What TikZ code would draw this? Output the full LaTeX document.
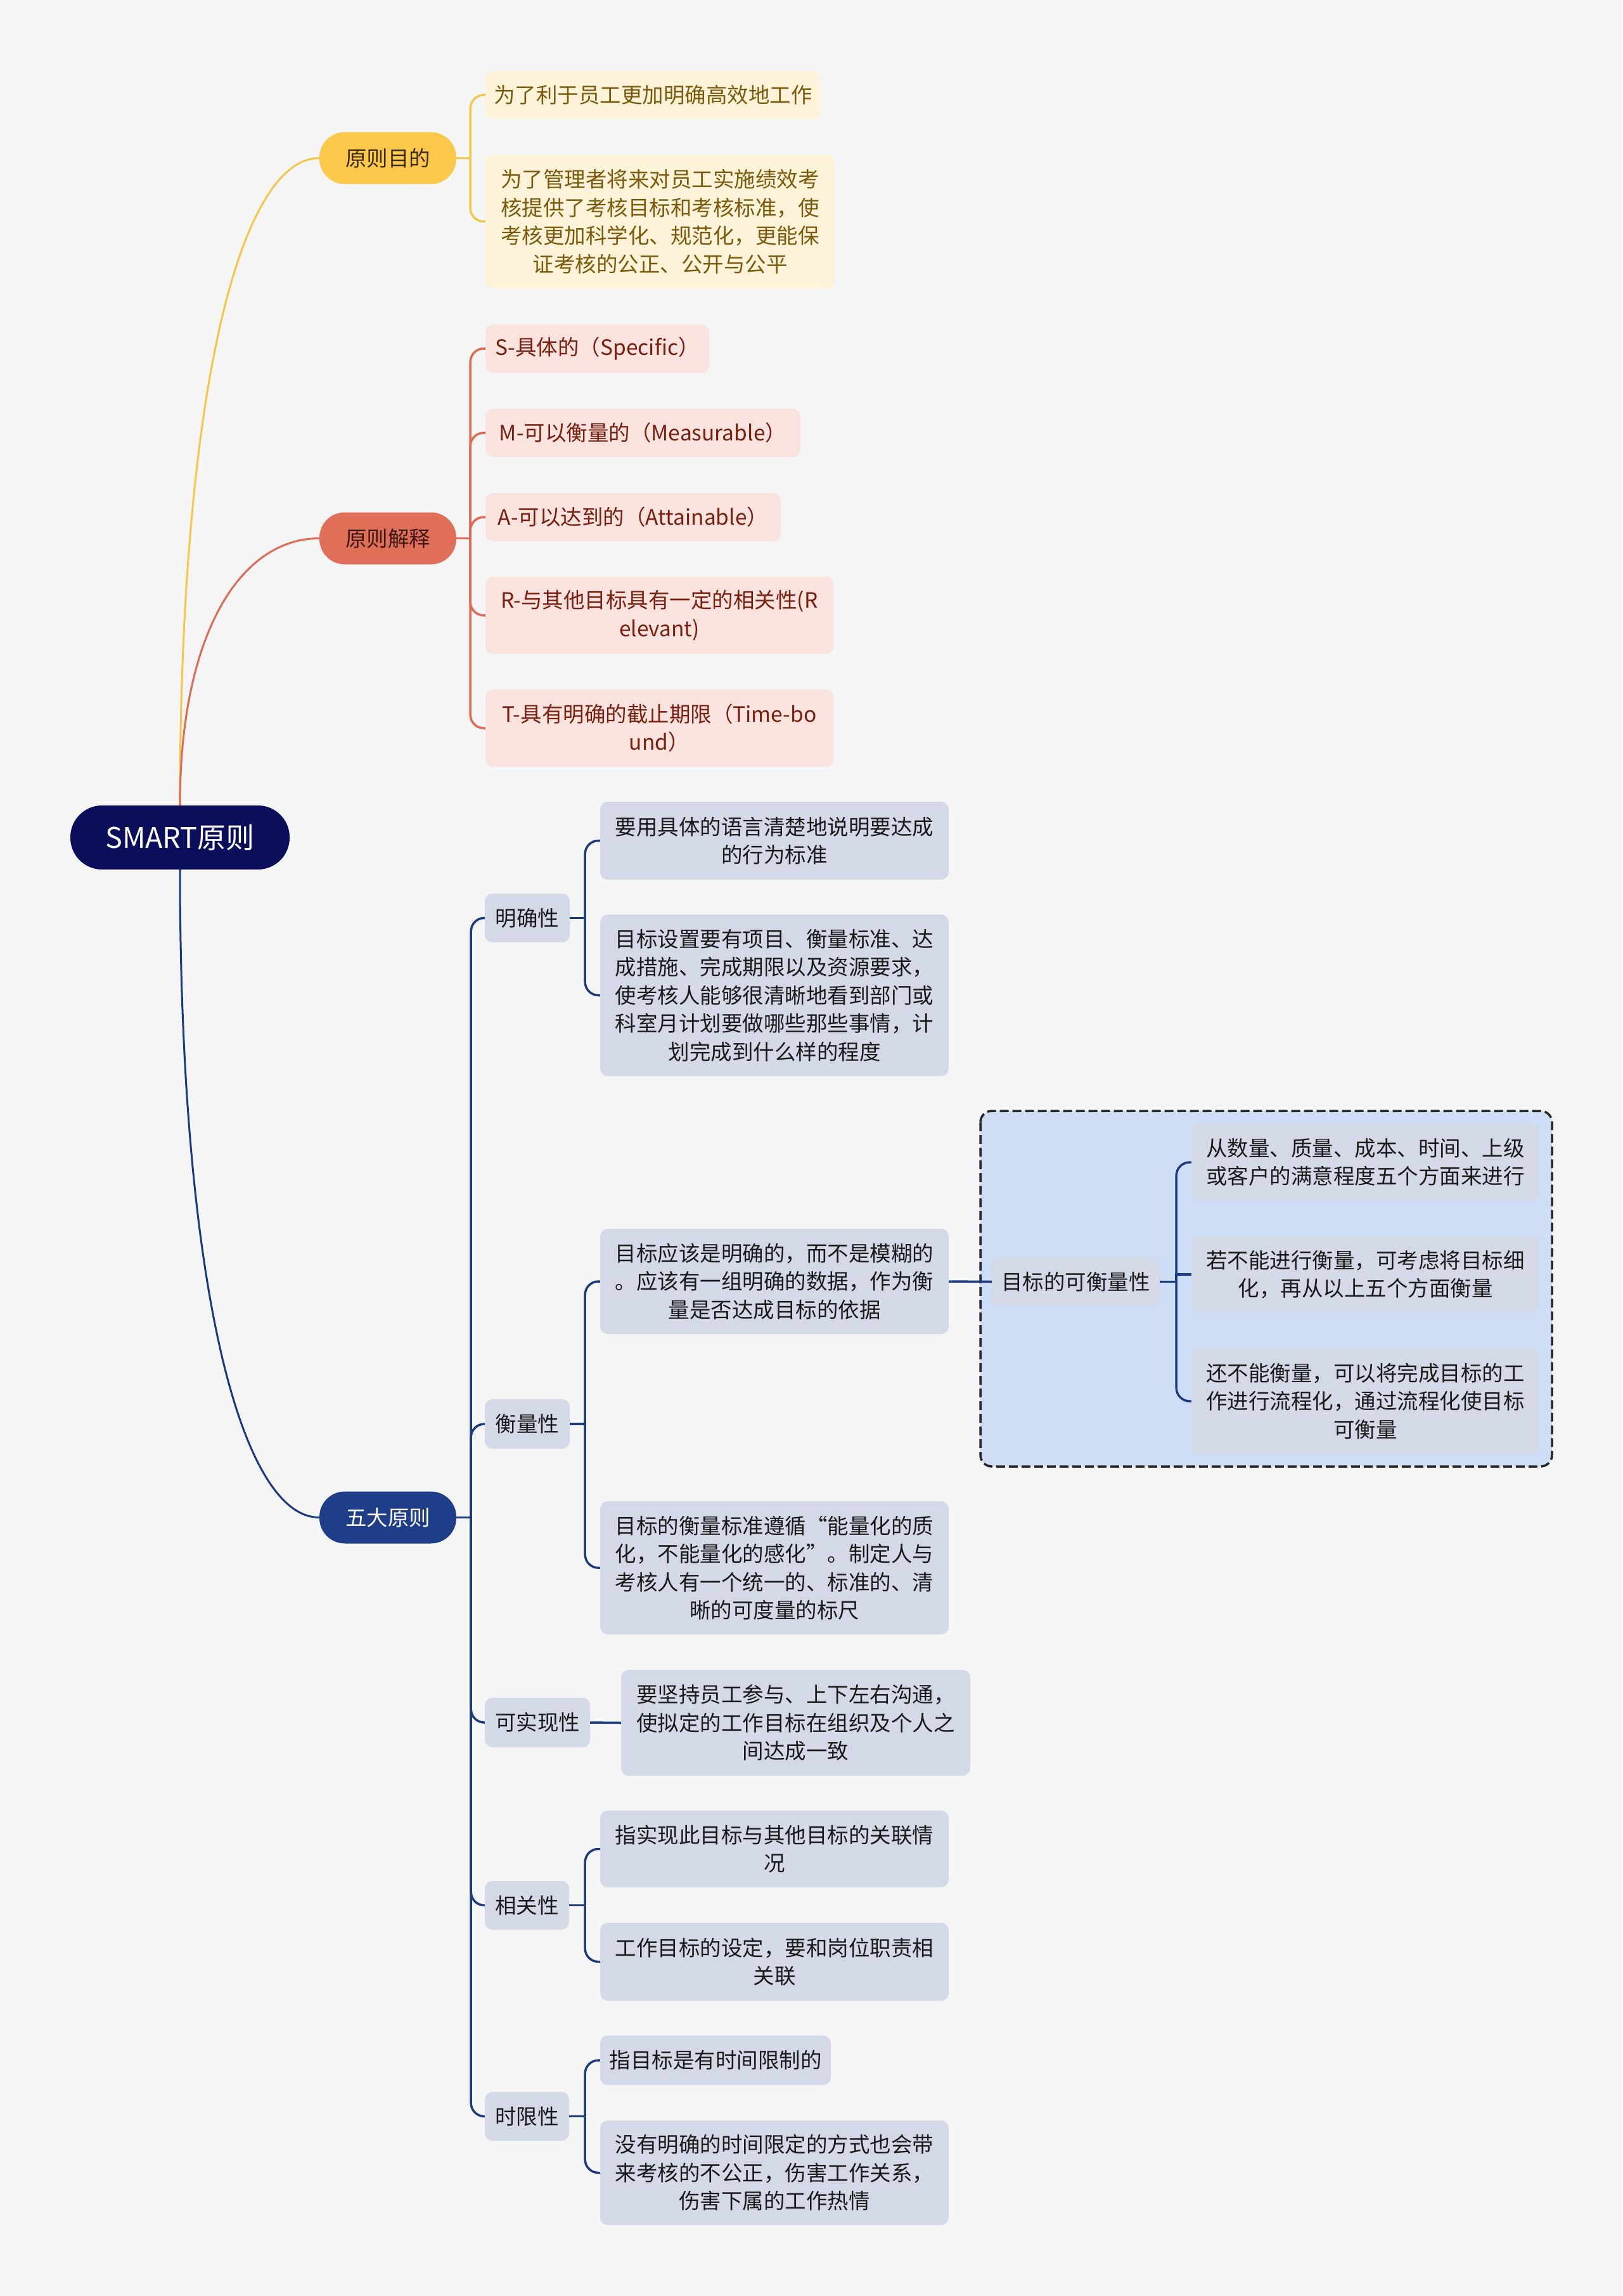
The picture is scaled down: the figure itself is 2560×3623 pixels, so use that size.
\documentclass[tikz,border=0pt]{standalone}
\usepackage{fontspec}
\setmainfont{Noto Sans CJK SC}
\definecolor{bgc}{HTML}{F5F5F5}
\definecolor{rootc}{HTML}{0B0F5B}
\definecolor{ymain}{HTML}{FCC94B}
\definecolor{ymaintxt}{HTML}{3B2A0A}
\definecolor{rmain}{HTML}{E16E58}
\definecolor{rmaintxt}{HTML}{3A1810}
\definecolor{bmain}{HTML}{1E3E8A}
\definecolor{ylt}{HTML}{FEF3D8}
\definecolor{ytxt}{HTML}{7B5A0C}
\definecolor{rlt}{HTML}{FAE3DE}
\definecolor{rtxt}{HTML}{7A1E0E}
\definecolor{blt}{HTML}{D4D9E8}
\definecolor{btxt}{HTML}{1A1A1A}
\definecolor{regionc}{HTML}{CDDDF5}
\definecolor{ylc}{HTML}{F5C64A}
\definecolor{rlc}{HTML}{E06A52}
\definecolor{blc}{HTML}{1C3A80}
\begin{document}
\begin{tikzpicture}[x=1pt,y=-1pt,
  every node/.style={font=\fontsize{33.5}{44.5}\selectfont, inner sep=0pt, align=center},
  sz/.style 2 args={minimum width=#1pt, minimum height=#2pt},
  rootbox/.style={fill=rootc, text=white, rounded corners=50pt, font=\fontsize{45}{54}\selectfont},
  mainbox/.style={rounded corners=40pt, minimum width=216pt, minimum height=82pt},
  ybox/.style={fill=ylt, text=ytxt, rounded corners=12pt},
  rbox/.style={fill=rlt, text=rtxt, rounded corners=12pt},
  bbox/.style={fill=blt, text=btxt, rounded corners=12pt},
  yl/.style={draw=ylc, line width=3.5pt},
  rl/.style={draw=rlc, line width=3.5pt},
  bl/.style={draw=blc, line width=3.5pt},
  rc/.style={rounded corners=21pt},
  region/.style={fill=regionc, draw=black!85, line width=3.5pt, dash pattern=on 14pt off 6pt, rounded corners=18pt}
]
\useasboundingbox (0,0) rectangle (2560,3623);
\fill[bgc] (0,0) rectangle (2560,3623);

% dashed region around the measurable sub-branch
\path[region] (1547,1753) rectangle (2449,2314);

% ---------- nodes ----------
\node[rootbox, sz={346}{101}] (root) at (284,1321.5) {SMART原则};
\node[mainbox, fill=ymain, text=ymaintxt] (p1) at (612,249.5) {原则目的};
\node[mainbox, fill=rmain, text=rmaintxt] (p2) at (612,849.5) {原则解释};
\node[mainbox, fill=bmain, text=white] (p3) at (612,2394.5) {五大原则};

\node[ybox, sz={529}{76}] (y1) at (1030.5,150) {为了利于员工更加明确高效地工作};
\node[ybox, sz={551}{211}] (y2) at (1041.5,349.5) {为了管理者将来对员工实施绩效考\\核提供了考核目标和考核标准，使\\考核更加科学化、规范化，更能保\\证考核的公正、公开与公平};

\node[rbox, sz={353}{76}] (r1) at (942.5,550) {S-具体的（Specific）};
\node[rbox, sz={497}{76}] (r2) at (1014.5,683) {M-可以衡量的（Measurable）};
\node[rbox, sz={466}{76}] (r3) at (999,816) {A-可以达到的（Attainable）};
\node[rbox, sz={549}{122}] (r4) at (1040.5,971) {R-与其他目标具有一定的相关性(R\\elevant)};
\node[rbox, sz={549}{122}] (r5) at (1040.5,1149) {T-具有明确的截止期限（Time-bo\\und）};

\node[bbox, sz={134}{77}] (b1) at (832,1448.5) {明确性};
\node[bbox, sz={550}{123}] (b1c1) at (1222,1326.5) {要用具体的语言清楚地说明要达成\\的行为标准};
\node[bbox, sz={550}{255}] (b1c2) at (1222,1570.5) {目标设置要有项目、衡量标准、达\\成措施、完成期限以及资源要求，\\使考核人能够很清晰地看到部门或\\科室月计划要做哪些那些事情，计\\划完成到什么样的程度};

\node[bbox, sz={134}{78}] (b2) at (832,2247) {衡量性};
\node[bbox, sz={550}{166}] (b2c1) at (1222,2022) {目标应该是明确的，而不是模糊的\\。应该有一组明确的数据，作为衡\\量是否达成目标的依据};
\node[bbox, sz={265}{77}] (b2g) at (1697.5,2022.5) {目标的可衡量性};
\node[bbox, sz={549}{122}] (g1) at (2154.5,1834) {从数量、质量、成本、时间、上级\\或客户的满意程度五个方面来进行};
\node[bbox, sz={549}{122}] (g2) at (2154.5,2011) {若不能进行衡量，可考虑将目标细\\化，再从以上五个方面衡量};
\node[bbox, sz={549}{166}] (g3) at (2154.5,2211) {还不能衡量，可以将完成目标的工\\作进行流程化，通过流程化使目标\\可衡量};
\node[bbox, sz={550}{210}] (b2c2) at (1222,2474) {目标的衡量标准遵循“能量化的质\\化，不能量化的感化”。制定人与\\考核人有一个统一的、标准的、清\\晰的可度量的标尺};

\node[bbox, sz={166}{78}] (b3) at (848,2718) {可实现性};
\node[bbox, sz={551}{167}] (b3c1) at (1255.5,2718.5) {要坚持员工参与、上下左右沟通，\\使拟定的工作目标在组织及个人之\\间达成一致};

\node[bbox, sz={133}{77}] (b4) at (831.5,3006.5) {相关性};
\node[bbox, sz={550}{121}] (b4c1) at (1222,2917.5) {指实现此目标与其他目标的关联情\\况};
\node[bbox, sz={550}{123}] (b4c2) at (1222,3095.5) {工作目标的设定，要和岗位职责相\\关联};

\node[bbox, sz={133}{77}] (b5) at (831.5,3339.5) {时限性};
\node[bbox, sz={364}{78}] (b5c1) at (1129,3251) {指目标是有时间限制的};
\node[bbox, sz={550}{165}] (b5c2) at (1222,3428.5) {没有明确的时间限定的方式也会带\\来考核的不公正，伤害工作关系，\\伤害下属的工作热情};

% ---------- connectors ----------
\draw[yl, line width=3pt] (root.north) .. controls (284,617) and (379,249.5) .. (p1.west);
\draw[rl, line width=3pt] (root.north) .. controls (284,1001) and (379,849.5) .. (p2.west);
\draw[bl, line width=3pt] (root.south) .. controls (284,2026) and (380,2394.5) .. (p3.west);

% 原则目的
\draw[yl] (p1.east) -- ++(22,0) coordinate (j1);
\draw[yl, rc] (j1) |- (y1.west);
\draw[yl, rc] (j1) |- (y2.west);

% 原则解释
\draw[rl] (p2.east) -- ++(22,0) coordinate (j2);
\foreach \c in {r1,r2,r3,r4,r5} \draw[rl, rc] (j2) |- (\c.west);

% 五大原则
\draw[bl] (p3.east) -- ++(23,0) coordinate (j3);
\foreach \c in {b1,b2,b3,b4,b5} \draw[bl, rc] (j3) |- (\c.west);

% 明确性
\draw[bl] (b1.east) -- ++(24,0) coordinate (j4);
\draw[bl, rc] (j4) |- (b1c1.west);
\draw[bl, rc] (j4) |- (b1c2.west);

% 衡量性
\draw[bl] (b2.east) -- ++(24,0) coordinate (j5);
\draw[bl, rc] (j5) |- (b2c1.west);
\draw[bl, rc] (j5) |- (b2c2.west);
\draw[bl] (b2c1.east) -- (b2g.west);

% 目标的可衡量性
\draw[bl] (b2g.east) -- ++(26,0) coordinate (j6);
\draw[bl, rc] (j6) |- (g1.west);
\draw[bl] (j6) |- (g2.west);
\draw[bl, rc] (j6) |- (g3.west);

% 可实现性
\draw[bl] (b3.east) -- (b3c1.west);

% 相关性
\draw[bl] (b4.east) -- ++(25,0) coordinate (j7);
\draw[bl, rc] (j7) |- (b4c1.west);
\draw[bl, rc] (j7) |- (b4c2.west);

% 时限性
\draw[bl] (b5.east) -- ++(25,0) coordinate (j8);
\draw[bl, rc] (j8) |- (b5c1.west);
\draw[bl, rc] (j8) |- (b5c2.west);
\end{tikzpicture}
\end{document}
